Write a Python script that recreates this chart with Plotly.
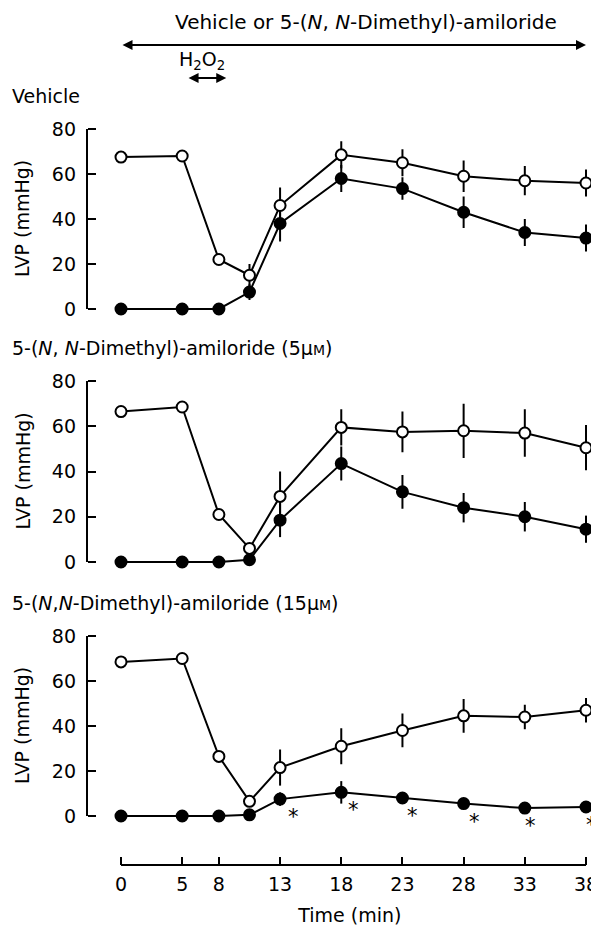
import plotly.graph_objects as go

# ---------------- data ----------------
times = [0, 5, 8, 10.5, 13, 18, 23, 28, 33, 38]
x_tick_vals = [0, 5, 8, 13, 18, 23, 28, 33, 38]
y_tick_vals = [0, 20, 40, 60, 80]

panel_titles = [
    "Vehicle",
    "5-(<i>N</i>, <i>N</i>-Dimethyl)-amiloride (5μ<span style='font-size:14px'>M</span>)",
    "5-(<i>N</i>,<i>N</i>-Dimethyl)-amiloride (15μ<span style='font-size:14px'>M</span>)",
]

# Vehicle
veh_open = [67.5, 68, 22, 15, 46, 68.5, 65, 59, 57, 56]
veh_open_err = [0, 0, 0, 5, 8, 6, 6, 7, 6.5, 6]
veh_filled = [0, 0, 0, 7.5, 38, 58, 53.5, 43, 34, 31.5]
veh_filled_err = [0, 0, 0, 3.5, 8, 6, 5, 7, 6, 6]

# 5 uM
d5_open = [66.5, 68.5, 21, 6, 29, 59.5, 57.5, 58, 57, 50.5]
d5_open_err = [0, 0, 0, 0, 11, 8, 9, 12, 10.5, 10]
d5_filled = [0, 0, 0, 1, 18.5, 43.5, 31, 24, 20, 14.5]
d5_filled_err = [0, 0, 0, 0, 7.5, 7.5, 7.5, 6.5, 6.5, 6]

# 15 uM
d15_open = [68.5, 70, 26.5, 6.5, 21.5, 31, 38, 44.5, 44, 47]
d15_open_err = [0, 0, 0, 0, 8, 8, 7.5, 7.5, 5.5, 5.5]
d15_filled = [0, 0, 0, 0.5, 7.5, 10.5, 8, 5.5, 3.5, 4]
d15_filled_err = [0, 0, 0, 0, 3, 5, 0, 0, 0, 0]

sig_times = [13, 18, 23, 28, 33, 38]   # * P<0.05 in 15 uM group

treatment_period = [0, 38]
h2o2_period = [5.4, 8.6]

panels = [
    (veh_open, veh_open_err, veh_filled, veh_filled_err),
    (d5_open, d5_open_err, d5_filled, d5_filled_err),
    (d15_open, d15_open_err, d15_filled, d15_filled_err),
]

# ---------------- layout geometry (window pixels) ----------------
WIN_W, WIN_H = 599, 929
OFF = 8                       # default page margin around the figure
W, H = WIN_W - OFF, WIN_H - OFF
FONT = "DejaVu Sans"
FS = 19
X0PX, X38PX = 121, 586
XR = [-1.5, 38.9]
YR = [-4, 84]
panel_px = [(309, 129), (562, 381), (816, 636)]   # (y=0 px, y=80 px)
YAXIS_PX = 87
XAXIS_PX = 865
AST_XSHIFT = [13, 12, 10, 11, 6, 5]   # label offsets (pixels) for asterisks


def py(p):
    return 1 - (p - OFF) / H


def px(p):
    return (p - OFF) / W


ppx = (X38PX - X0PX) / 38.0
x_dom = [px(X0PX + (XR[0] - 0) * ppx), px(X38PX + (XR[1] - 38) * ppx)]

fig = go.Figure()
annotations = []
shapes = []
layout_axes = {}

for i, (o, oe, f, fe) in enumerate(panels):
    yname = "y" if i == 0 else f"y{i+1}"
    lname = "yaxis" if i == 0 else f"yaxis{i+1}"
    y0, y80 = panel_px[i]
    ppu = (y0 - y80) / 80.0
    bottom = y0 + (0 - YR[0]) * ppu
    top = y80 - (YR[1] - 80) * ppu
    layout_axes[lname] = dict(
        domain=[py(bottom), py(top)], range=YR, anchor="free",
        position=px(YAXIS_PX), showline=False, showgrid=False, zeroline=False,
        ticks="inside", ticklen=8, tickwidth=2, tickcolor="black",
        tickvals=y_tick_vals, ticklabelstandoff=11, automargin=False,
        tickfont=dict(family=FONT, size=FS, color="black"),
    )
    # y-axis line from 0 to 80
    shapes.append(dict(type="line", xref="paper", yref=yname, x0=px(YAXIS_PX),
                       x1=px(YAXIS_PX), y0=0, y1=80,
                       line=dict(color="black", width=2)))
    for vals, errs, fill in ((f, fe, "black"), (o, oe, "white")):
        fig.add_trace(go.Scatter(
            x=times, y=vals, xaxis="x", yaxis=yname, mode="lines+markers",
            line=dict(color="black", width=2),
            marker=dict(size=11, color=fill, line=dict(color="black", width=2)),
            error_y=dict(type="data", array=errs, visible=True, thickness=2,
                         width=0, color="black"),
            cliponaxis=False, showlegend=False, hoverinfo="skip"))
    # panel title
    annotations.append(dict(text=panel_titles[i], xref="paper", yref="paper",
                            x=px(10), y=py(y80 - 33), xanchor="left",
                            yanchor="middle", showarrow=False,
                            font=dict(family=FONT, size=FS, color="black")))
    # y title
    annotations.append(dict(text="LVP (mmHg)", xref="paper", yref="paper",
                            x=px(22), y=py((y0 + y80) / 2), textangle=-90,
                            xanchor="center", yanchor="middle", showarrow=False,
                            font=dict(family=FONT, size=FS, color="black")))

# significance asterisks (15 uM panel)
for k, t in enumerate(sig_times):
    yv = d15_filled[times.index(t)]
    annotations.append(dict(text="*", xref="x", yref="y3", x=t, y=yv,
                            xshift=AST_XSHIFT[k], yshift=-18, showarrow=False,
                            font=dict(family=FONT, size=21, color="black")))

# x-axis line
shapes.append(dict(type="line", xref="x", yref="paper", x0=0, x1=38,
                   y0=py(XAXIS_PX), y1=py(XAXIS_PX),
                   line=dict(color="black", width=2)))

# top arrows
annotations.append(dict(text="Vehicle or 5-(<i>N</i>, <i>N</i>-Dimethyl)-amiloride",
                        xref="paper", yref="paper", x=px(366), y=py(22),
                        xanchor="center", yanchor="middle", showarrow=False,
                        font=dict(family=FONT, size=20, color="black")))
annotations.append(dict(text="", xref="x", axref="x", yref="paper", ayref="pixel",
                        x=treatment_period[1], ax=treatment_period[0],
                        y=py(45), ay=0, showarrow=True, arrowside="end+start",
                        arrowhead=2, arrowsize=1, arrowwidth=2, arrowcolor="black",
                        startarrowhead=2, startarrowsize=1))
annotations.append(dict(text="H<sub>2</sub>O<sub>2</sub>", xref="paper", yref="paper",
                        x=px(202), y=py(60), xanchor="center", yanchor="middle",
                        showarrow=False, font=dict(family=FONT, size=FS, color="black")))
annotations.append(dict(text="", xref="x", axref="x", yref="paper", ayref="pixel",
                        x=h2o2_period[1], ax=h2o2_period[0],
                        y=py(78), ay=0, showarrow=True, arrowside="end+start",
                        arrowhead=2, arrowsize=1, arrowwidth=2, arrowcolor="black",
                        startarrowhead=2, startarrowsize=1))

fig.update_layout(
    width=W, height=H, margin=dict(l=0, r=0, t=0, b=0, autoexpand=False),
    paper_bgcolor="white", plot_bgcolor="white",
    font=dict(family=FONT, size=FS, color="black"),
    xaxis=dict(domain=x_dom, range=XR, anchor="free", position=py(XAXIS_PX),
               showline=False, showgrid=False, zeroline=False,
               ticks="inside", ticklen=8, tickwidth=2, tickcolor="black",
               tickvals=x_tick_vals, ticklabelstandoff=6, automargin=False,
               tickfont=dict(family=FONT, size=FS, color="black"),
               title=dict(text="Time (min)", standoff=14,
                          font=dict(family=FONT, size=FS, color="black"))),
    annotations=annotations, shapes=shapes, showlegend=False,
    **layout_axes,
)

fig.write_html("out.html")
